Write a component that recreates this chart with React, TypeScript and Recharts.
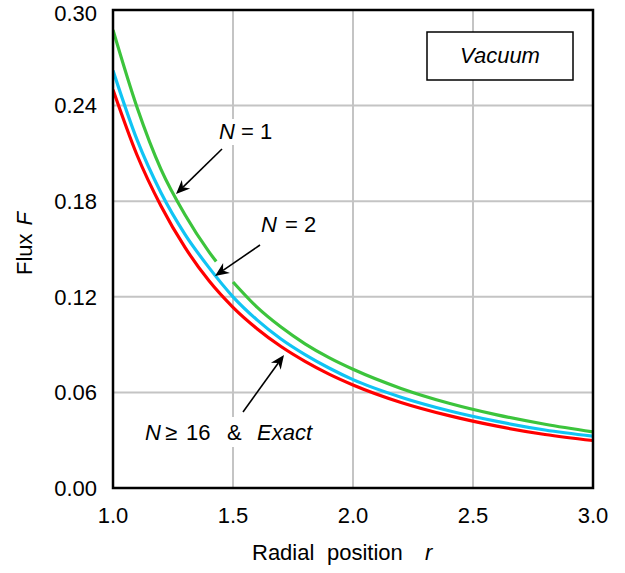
import React from 'react';
import { LineChart, Line, XAxis, YAxis, CartesianGrid } from 'recharts';

// radial positions shared by the smooth series
const R = [1.0, 1.1, 1.2, 1.3, 1.4, 1.5, 1.6, 1.7, 1.8, 1.9, 2.0, 2.2, 2.4, 2.6, 2.8, 3.0];

// N >= 16 & Exact (red)
const EXACT = [0.25, 0.209, 0.177, 0.151, 0.13, 0.1134, 0.1, 0.0888, 0.0795, 0.0715, 0.0647, 0.0537, 0.0454, 0.0388, 0.0336, 0.0298];
// N = 2 (blue)
const N2 = [0.262, 0.2186, 0.1853, 0.1592, 0.1383, 0.12, 0.1055, 0.0935, 0.0837, 0.0753, 0.068, 0.057, 0.0485, 0.0418, 0.0364, 0.0325];
// N = 1 (green), drawn in two pieces with a gap where the N = 2 arrow crosses
const N1_NEAR_R = [1.0, 1.1, 1.2, 1.3, 1.4, 1.43];
const N1_NEAR = [0.2875, 0.239, 0.2, 0.1715, 0.1482, 0.1421];
const N1_FAR_R = [1.5, 1.6, 1.7, 1.8, 1.9, 2.0, 2.2, 2.4, 2.6, 2.8, 3.0];
const N1_FAR = [0.1293, 0.1135, 0.101, 0.0905, 0.0818, 0.0745, 0.0625, 0.0532, 0.0459, 0.04, 0.0352];

const X_TICKS = [1.0, 1.5, 2.0, 2.5, 3.0];
const Y_TICKS = [0, 0.06, 0.12, 0.18, 0.24, 0.3];

const W = 625;
const H = 573;
const FONT = '"Liberation Sans", Arial, Helvetica, sans-serif';

// plot box in pixels (margins below produce it)
const PLOT = { left: 113, top: 10, right: 593, bottom: 488 };

const GREEN = '#3cc43c';
const BLUE = '#10c4f4';
const RED = '#ff0000';

const toRows = (xs: number[], ys: number[]) => xs.map((r, i) => ({ r, F: ys[i] }));

const exactRows = toRows(R, EXACT);
const n2Rows = toRows(R, N2);
const n1Near = toRows(N1_NEAR_R, N1_NEAR);
const n1Far = toRows(N1_FAR_R, N1_FAR);

const Arrow = ({ x1, y1, x2, y2 }: { x1: number; y1: number; x2: number; y2: number }) => {
  const dx = x2 - x1;
  const dy = y2 - y1;
  const len = Math.hypot(dx, dy);
  const ux = dx / len;
  const uy = dy / len;
  const hl = 14;
  const hw = 6;
  const bx = x2 - ux * hl;
  const by = y2 - uy * hl;
  const nx = x2 - ux * hl * 0.7;
  const ny = y2 - uy * hl * 0.7;
  const pts = [
    [x2, y2],
    [bx - uy * hw, by + ux * hw],
    [nx, ny],
    [bx + uy * hw, by - ux * hw],
  ]
    .map((p) => p.join(','))
    .join(' ');
  return (
    <g>
      <line x1={x1} y1={y1} x2={nx} y2={ny} stroke="#000" strokeWidth={1.6} />
      <polygon points={pts} fill="#000" />
    </g>
  );
};

const Annotations = () => (
  <svg
    width={W}
    height={H}
    style={{ position: 'absolute', left: 0, top: 0, pointerEvents: 'none' }}
    fontFamily={FONT}
    fontSize={22}
  >
    {/* plot frame */}
    <rect
      x={PLOT.left}
      y={PLOT.top}
      width={PLOT.right - PLOT.left}
      height={PLOT.bottom - PLOT.top}
      fill="none"
      stroke="#000"
      strokeWidth={2.5}
    />

    {/* Vacuum box */}
    <rect x={427} y={32} width={146} height={48} fill="#fff" stroke="#000" strokeWidth={1.5} />
    <text x={500} y={63} textAnchor="middle" fontStyle="italic">
      Vacuum
    </text>

    {/* N = 1 */}
    <rect x={214} y={119} width={66} height={26} fill="#fff" />
    <text x={219} y={139}>
      <tspan fontStyle="italic">N</tspan>
      <tspan x={241}>= 1</tspan>
    </text>
    <Arrow x1={222} y1={149} x2={176} y2={194} />

    {/* N = 2 */}
    <text x={261} y={232}>
      <tspan fontStyle="italic">N</tspan>
      <tspan x={285}>= 2</tspan>
    </text>
    <Arrow x1={260} y1={245} x2={215} y2={276} />

    {/* N >= 16 & Exact */}
    <rect x={140} y={417} width={184} height={30} fill="#fff" />
    <text x={145} y={440}>
      <tspan fontStyle="italic">N</tspan>
      <tspan x={165}>≥</tspan>
      <tspan x={186}>16</tspan>
      <tspan x={227}>&amp;</tspan>
      <tspan x={257} fontStyle="italic">
        Exact
      </tspan>
    </text>
    <Arrow x1={243} y1={412} x2={284} y2={355} />

    {/* axis titles */}
    <text x={252} y={560}>
      Radial
      <tspan x={327}>position</tspan>
      <tspan x={425} fontStyle="italic">
        r
      </tspan>
    </text>
    <text transform="translate(32,275) rotate(-90)">
      Flux
      <tspan dx={8} fontStyle="italic">
        F
      </tspan>
    </text>
  </svg>
);

export default function App() {
  return (
    <div style={{ position: 'absolute', left: 0, top: 0, width: W, height: H, background: '#fff' }}>
      <LineChart
        width={W}
        height={H}
        margin={{ top: PLOT.top, right: W - PLOT.right, bottom: 0, left: 0 }}
      >
        <CartesianGrid stroke="#c4c4c4" strokeWidth={2} />
        <XAxis
          dataKey="r"
          type="number"
          domain={[1, 3]}
          ticks={X_TICKS}
          allowDataOverflow
          height={H - PLOT.bottom}
          axisLine={false}
          tickLine={false}
          tickSize={0}
          tickMargin={19}
          tick={{ fill: '#000', fontSize: 22, fontFamily: FONT }}
          tickFormatter={(v: number) => v.toFixed(1)}
        />
        <YAxis
          type="number"
          domain={[0, 0.3]}
          ticks={Y_TICKS}
          allowDataOverflow
          width={PLOT.left}
          axisLine={false}
          tickLine={false}
          tickSize={0}
          tickMargin={16}
          tick={{ fill: '#000', fontSize: 22, fontFamily: FONT }}
          tickFormatter={(v: number) => v.toFixed(2)}
        />
        <Line data={exactRows} dataKey="F" type="monotone" stroke={RED} strokeWidth={3.2} dot={false} isAnimationActive={false} />
        <Line data={n2Rows} dataKey="F" type="monotone" stroke={BLUE} strokeWidth={3.2} dot={false} isAnimationActive={false} />
        <Line data={n1Near} dataKey="F" type="monotone" stroke={GREEN} strokeWidth={3.2} dot={false} isAnimationActive={false} />
        <Line data={n1Far} dataKey="F" type="monotone" stroke={GREEN} strokeWidth={3.2} dot={false} isAnimationActive={false} />
      </LineChart>
      <Annotations />
    </div>
  );
}
